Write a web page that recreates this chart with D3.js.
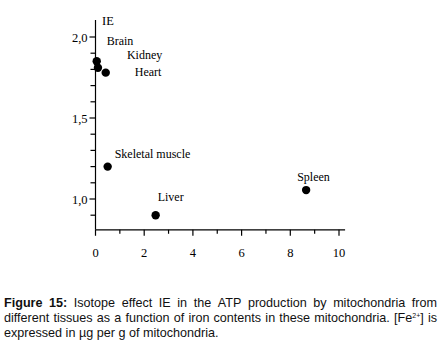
<!DOCTYPE html>
<html>
<head>
<meta charset="utf-8">
<script src="https://cdn.jsdelivr.net/npm/d3@7"></script>
<style>
  body { margin: 0; background: #fff; }
  svg { display: block; }
</style>
</head>
<body>
<svg id="chart" width="442" height="343"></svg>
<script>
// data
let tissues = ["Brain", "Kidney", "Heart", "Skeletal muscle", "Liver", "Spleen"],
  iron = [0.05, 0.1, 0.42, 0.5, 2.47, 8.65],
  ie = [1.85, 1.81, 1.78, 1.20, 0.90, 1.055],
  labelOffset = [[10, -16], [29, -9], [29, 3], [7, -9], [2, -14], [-9, -9]]

let xMajor = [0, 2, 4, 6, 8, 10],
  xMinor = [1, 3, 5, 7, 9],
  yMajor = [1.0, 1.5, 2.0],
  yMinor = [0.9, 1.1, 1.2, 1.3, 1.4, 1.6, 1.7, 1.8, 1.9]

let captionLines = [
  [[["Figure", "b"]], [["15:", "b"]], "Isotope", "effect", "IE", "in", "the", "ATP", "production", "by", "mitochondria", "from"],
  ["different", "tissues", "as", "a", "function", "of", "iron", "contents", "in", "these", "mitochondria.", [["[Fe", ""], ["2+", "sup"], ["]", "down"]], "is"],
  ["expressed", "in", "µg", "per", "g", "of", "mitochondria."]
]

let svg = d3.select("#chart"),
  serif = "'Liberation Serif', 'Times New Roman', serif",
  sans = "'Liberation Sans', Arial, sans-serif"

let x = d3.scaleLinear().domain([0, 10]).range([95.5, 339]),
  y = d3.scaleLinear().domain([1.0, 2.0]).range([199, 37])

let plot = svg.append("g")

// axes lines
plot.append("line")
  .attr("x1", x(0)).attr("x2", x(10.25))
  .attr("y1", y(0.81)).attr("y2", y(0.81))
  .attr("stroke", "#000").attr("stroke-width", 1.2)
plot.append("line")
  .attr("x1", x(0)).attr("x2", x(0))
  .attr("y1", y(0.81)).attr("y2", y(2.105))
  .attr("stroke", "#000").attr("stroke-width", 1.2)

// x ticks
plot.selectAll(".xt")
  .data(xMajor.map(d => [d, 6]).concat(xMinor.map(d => [d, 4]))).enter()
  .append("line")
  .attr("x1", d => x(d[0])).attr("x2", d => x(d[0]))
  .attr("y1", y(0.81)).attr("y2", d => y(0.81) + d[1])
  .attr("stroke", "#000").attr("stroke-width", 1.2)
plot.selectAll(".xl")
  .data(xMajor).enter()
  .append("text")
  .attr("x", d => x(d)).attr("y", y(0.81) + 27)
  .attr("text-anchor", "middle")
  .attr("font-family", serif).attr("font-size", 12.5)
  .text(d => d)

// y ticks
plot.selectAll(".yt")
  .data(yMajor.map(d => [d, 6]).concat(yMinor.map(d => [d, 5]))).enter()
  .append("line")
  .attr("x1", x(0) - 0).attr("x2", d => x(0) - d[1])
  .attr("y1", d => y(d[0])).attr("y2", d => y(d[0]))
  .attr("stroke", "#000").attr("stroke-width", 1.2)
plot.selectAll(".yl")
  .data(yMajor).enter()
  .append("text")
  .attr("x", x(0) - 8).attr("y", d => y(d) + 4.5)
  .attr("text-anchor", "end")
  .attr("font-family", serif).attr("font-size", 12.5)
  .text(d => d.toFixed(1).replace(".", ","))

plot.append("text")
  .attr("x", 102).attr("y", 24.5)
  .attr("font-family", serif).attr("font-size", 12.5)
  .text("IE")

// points and labels
plot.selectAll("circle")
  .data(tissues).enter()
  .append("circle")
  .attr("cx", (d, i) => x(iron[i]))
  .attr("cy", (d, i) => y(ie[i]))
  .attr("r", 4.2)
  .attr("fill", "#000")
plot.selectAll(".lab")
  .data(tissues).enter()
  .append("text")
  .attr("x", (d, i) => x(iron[i]) + labelOffset[i][0])
  .attr("y", (d, i) => y(ie[i]) + labelOffset[i][1])
  .attr("font-family", serif).attr("font-size", 12)
  .text(d => d)

// caption, justified by hand
let left = 4, right = 437, base = 307, lead = 15.2
captionLines.forEach((words, li) => {
  let g = svg.append("g"),
    nodes = words.map(w => {
      let t = g.append("text")
        .attr("y", base + li * lead)
        .attr("font-family", sans).attr("font-size", 12.6)
        .attr("fill", "#111")
      let parts = typeof w === "string" ? [[w, ""]] : w
      parts.forEach(p => {
        let s = t.append("tspan").text(p[0])
        if (p[1] === "b") s.attr("font-weight", "bold")
        if (p[1] === "sup") s.attr("font-size", 7).attr("dy", -4)
        if (p[1] === "down") s.attr("dy", 4)
      })
      return t
    })
  let widths = nodes.map(t => t.node().getComputedTextLength()),
    total = d3.sum(widths),
    space = 3.5
  if (li < captionLines.length - 1) space = (right - left - total) / (nodes.length - 1)
  let pos = left
  nodes.forEach((t, i) => {
    t.attr("x", pos)
    pos += widths[i] + space
  })
})
</script>
</body>
</html>
